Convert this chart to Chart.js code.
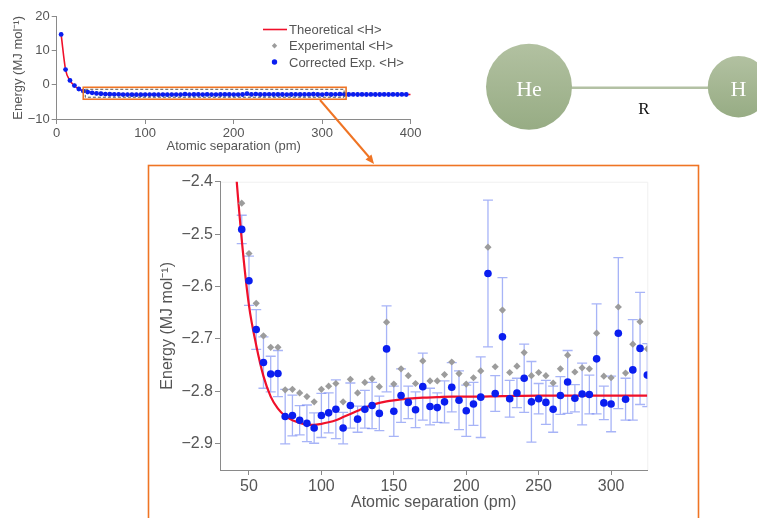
<!DOCTYPE html>
<html>
<head>
<meta charset="utf-8">
<title>HeH+ potential energy curve</title>
<script src="https://cdn.jsdelivr.net/npm/chart.js@4.4.1/dist/chart.umd.min.js"></script>
<style>
  html, body { margin: 0; padding: 0; background: #fff; }
  #page { position: relative; width: 757px; height: 518px; overflow: hidden; }
  #overview { position: absolute; left: 0; top: 0; }
  #detail { position: absolute; left: 150px; top: 170px; }
  #deco { position: absolute; left: 0; top: 0; pointer-events: none; }
</style>
</head>
<body>
<div id="page">
  <canvas id="overview" width="430" height="160"></canvas>
  <canvas id="detail" width="510" height="348"></canvas>
  <svg id="deco" width="757" height="518" xmlns="http://www.w3.org/2000/svg">
    <defs>
      <linearGradient id="ball" x1="0" y1="0" x2="0" y2="1">
        <stop offset="0" stop-color="#b2c1a1"/>
        <stop offset="1" stop-color="#97ac84"/>
      </linearGradient>
    </defs>
    <!-- legend of the overview plot -->
    <g font-family="Liberation Sans, Arial, sans-serif" font-size="13" fill="#555" dominant-baseline="central">
      <line x1="263" y1="29.5" x2="287" y2="29.5" stroke="#f0102a" stroke-width="1.6"/>
      <text x="289" y="29.5">Theoretical &lt;H&gt;</text>
      <polygon points="274.5,43 277.2,45.8 274.5,48.6 271.8,45.8" fill="#9c9c9c"/>
      <text x="289" y="45.8">Experimental &lt;H&gt;</text>
      <circle cx="274.5" cy="62" r="2.7" fill="#0a1ef0"/>
      <text x="289" y="62">Corrected Exp. &lt;H&gt;</text>
    </g>
    <!-- link from the zoom window to the enlarged plot -->
    <line x1="320" y1="100" x2="369" y2="157" stroke="#ef7424" stroke-width="2"/>
    <polygon points="374,164 365.5,159.5 371.5,154.5" fill="#ef7424"/>
    <rect x="148.5" y="165.5" width="550" height="420" fill="none" stroke="#ef7424" stroke-width="1.6"/>
    <!-- He-H diatomic sketch -->
    <line x1="571" y1="87.7" x2="708" y2="87.7" stroke="#b3c1a4" stroke-width="2.5"/>
    <circle cx="529" cy="86.7" r="43" fill="url(#ball)"/>
    <circle cx="738.5" cy="86.7" r="30.7" fill="url(#ball)"/>
    <text x="529" y="88" fill="#ffffff" font-family="Liberation Serif, DejaVu Serif, serif" font-size="22" text-anchor="middle" dominant-baseline="central">He</text>
    <text x="738.5" y="88" fill="#ffffff" font-family="Liberation Serif, DejaVu Serif, serif" font-size="22" text-anchor="middle" dominant-baseline="central">H</text>
    <text x="644" y="108" fill="#111" font-family="Liberation Serif, DejaVu Serif, serif" font-size="17" text-anchor="middle" dominant-baseline="central">R</text>
  </svg>
</div>
<script>
// Atomic separation of each measured geometry (pm)
const separation = [
  5, 10, 15, 20, 25, 30, 35, 40, 45, 50, 55, 60, 65, 70, 75, 80, 85, 90, 95, 100,
  105, 110, 115, 120, 125, 130, 135, 140, 145, 150, 155, 160, 165, 170, 175, 180, 185, 190, 195, 200,
  205, 210, 215, 220, 225, 230, 235, 240, 245, 250, 255, 260, 265, 270, 275, 280, 285, 290, 295, 300,
  305, 310, 315, 320, 325, 330, 335, 340, 345, 350, 355, 360, 365, 370, 375, 380, 385, 390, 395
];

// Experimental <H> (MJ mol^-1)
const experimental = [
  14.85, 4.55, 1.35, -0.15, -1.15, -1.75, -2.05, -2.28, -2.441, -2.537,
  -2.632, -2.694, -2.716, -2.716, -2.797, -2.796, -2.803, -2.810, -2.820, -2.796,
  -2.790, -2.785, -2.820, -2.777, -2.803, -2.783, -2.776, -2.791, -2.668, -2.786,
  -2.757, -2.770, -2.785, -2.742, -2.780, -2.780, -2.768, -2.744, -2.766, -2.786,
  -2.774, -2.761, -2.525, -2.753, -2.645, -2.764, -2.752, -2.726, -2.770, -2.764,
  -2.770, -2.784, -2.757, -2.731, -2.763, -2.755, -2.757, -2.689, -2.771, -2.774,
  -2.639, -2.765, -2.710, -2.667, -2.719, -2.76, -2.75, -2.77, -2.74, -2.76,
  -2.75, -2.76, -2.77, -2.75, -2.76, -2.74, -2.76, -2.75, -2.76
];

// Corrected experimental <H> (MJ mol^-1)
const corrected = [
  14.8, 4.5, 1.3, -0.2, -1.2, -1.8, -2.1, -2.33, -2.491, -2.589,
  -2.682, -2.745, -2.767, -2.766, -2.848, -2.846, -2.855, -2.861, -2.870, -2.846,
  -2.841, -2.834, -2.870, -2.827, -2.853, -2.834, -2.827, -2.842, -2.719, -2.838,
  -2.808, -2.821, -2.835, -2.791, -2.829, -2.831, -2.820, -2.792, -2.817, -2.837,
  -2.824, -2.811, -2.575, -2.804, -2.696, -2.814, -2.803, -2.775, -2.820, -2.814,
  -2.821, -2.834, -2.808, -2.782, -2.813, -2.805, -2.806, -2.738, -2.822, -2.824,
  -2.689, -2.815, -2.759, -2.718, -2.769, -2.81, -2.80, -2.82, -2.79, -2.81,
  -2.80, -2.81, -2.82, -2.80, -2.81, -2.79, -2.81, -2.80, -2.81
];

// Uncertainty of the corrected values, half-width (MJ mol^-1)
const correctedError = [
  0.02, 0.02, 0.03, 0.03, 0.03, 0.04, 0.04, 0.03, 0.027, 0.047,
  0.038, 0.049, 0.034, 0.044, 0.052, 0.039, 0.028, 0.035, 0.029, 0.042,
  0.038, 0.056, 0.030, 0.043, 0.025, 0.036, 0.044, 0.033, 0.082, 0.048,
  0.051, 0.031, 0.034, 0.064, 0.035, 0.028, 0.040, 0.047, 0.056, 0.049,
  0.041, 0.077, 0.140, 0.034, 0.113, 0.035, 0.028, 0.065, 0.077, 0.029,
  0.042, 0.044, 0.036, 0.060, 0.026, 0.059, 0.037, 0.105, 0.032, 0.053,
  0.144, 0.040, 0.096, 0.107, 0.060, 0.05, 0.04, 0.06, 0.05, 0.04,
  0.05, 0.06, 0.04, 0.05, 0.05, 0.04, 0.06, 0.05, 0.04
];

// Theoretical <H> curve
const theorySeparation = [
  5, 10, 15, 20, 25, 30, 35, 40, 45, 50, 55, 60, 65, 70, 75, 80, 85, 90, 95, 100,
  105, 110, 115, 120, 125, 130, 135, 140, 145, 150, 160, 170, 180, 190, 200,
  225, 250, 275, 300, 325, 350, 375, 400
];
const theoryEnergy = [
  14.8, 4.5, 1.25, -0.25, -1.2, -1.75, -2.08, -2.34, -2.51, -2.636,
  -2.712, -2.771, -2.810, -2.833, -2.847, -2.855, -2.860, -2.863, -2.864, -2.862,
  -2.859, -2.855, -2.849, -2.843, -2.837, -2.831, -2.826, -2.822, -2.819, -2.817,
  -2.814, -2.812, -2.811, -2.810, -2.810,
  -2.809, -2.808, -2.808, -2.808, -2.808, -2.808, -2.808, -2.808
];

// Tick values
const overviewXTicks = [0, 100, 200, 300, 400];
const overviewYTicks = [-10, 0, 10, 20];
const detailXTicks = [50, 100, 150, 200, 250, 300];
const detailYTicks = [-2.9, -2.8, -2.7, -2.6, -2.5, -2.4];

// Region of the overview that is enlarged below
const zoomWindow = { xMin: 30, xMax: 327, yMin: -4.2, yMax: -0.7 };

const RED = '#f0102a';
const BLUE = '#0a1ef0';
const GREY = '#9c9c9c';
const TEXT = '#555555';
const AXIS = '#8a8a8a';

Chart.defaults.font.family = '"Liberation Sans", Arial, Helvetica, sans-serif';
Chart.defaults.color = TEXT;
Chart.defaults.animation = false;

const pairs = (xs, ys) => xs.map((x, i) => ({ x: x, y: ys[i] }));
const minusLabel = v => (v < 0 ? '\u2212' + Math.abs(v) : String(v));
const fixedTicks = list => scale => { scale.ticks = list.map(v => ({ value: v })); };

function buildDatasets(big) {
  return [
    {
      label: 'Corrected Exp. <H>',
      data: pairs(separation, corrected),
      pointStyle: 'circle',
      pointRadius: big ? 3.8 : 2.4,
      pointBackgroundColor: BLUE,
      pointBorderWidth: 0,
      showLine: false,
      order: 0
    },
    {
      label: 'Experimental <H>',
      data: pairs(separation, experimental),
      pointStyle: 'rectRot',
      pointRadius: big ? 3.6 : 2.2,
      pointBackgroundColor: GREY,
      pointBorderWidth: 0,
      showLine: false,
      order: 1
    },
    {
      label: 'Theoretical <H>',
      data: pairs(theorySeparation, theoryEnergy),
      showLine: true,
      borderColor: RED,
      borderWidth: big ? 2.2 : 1.6,
      pointRadius: 0,
      cubicInterpolationMode: 'monotone',
      order: 2
    }
  ];
}

function axisStyle(fontSize) {
  return {
    grid: { display: true, drawOnChartArea: false, drawTicks: true, tickLength: 5, color: AXIS, lineWidth: 1 },
    border: { display: true, color: AXIS, width: 1 },
    ticks: { color: TEXT, font: { size: fontSize }, padding: 2, maxRotation: 0, autoSkip: false, callback: minusLabel }
  };
}

// Error bars of the corrected values, drawn under the markers
const errorBars = {
  id: 'errorBars',
  beforeDatasetsDraw(chart) {
    const { ctx, chartArea: a, scales: { x, y } } = chart;
    ctx.save();
    ctx.beginPath();
    ctx.rect(a.left, a.top, a.right - a.left, a.bottom - a.top);
    ctx.clip();
    ctx.strokeStyle = 'rgba(80,105,240,0.5)';
    ctx.lineWidth = 1.3;
    const cap = 5;
    separation.forEach((s, i) => {
      const px = x.getPixelForValue(s);
      const hi = y.getPixelForValue(corrected[i] + correctedError[i]);
      const lo = y.getPixelForValue(corrected[i] - correctedError[i]);
      ctx.beginPath();
      ctx.moveTo(px, hi); ctx.lineTo(px, lo);
      ctx.moveTo(px - cap, hi); ctx.lineTo(px + cap, hi);
      ctx.moveTo(px - cap, lo); ctx.lineTo(px + cap, lo);
      ctx.stroke();
    });
    ctx.restore();
  }
};

// Faint outline on the open sides of the enlarged plot
const plotFrame = {
  id: 'plotFrame',
  beforeDraw(chart) {
    const { ctx, chartArea: a } = chart;
    ctx.save();
    ctx.strokeStyle = '#f0f0f0';
    ctx.lineWidth = 1;
    ctx.beginPath();
    ctx.moveTo(a.left, a.top + 0.5); ctx.lineTo(a.right + 0.5, a.top + 0.5); ctx.lineTo(a.right + 0.5, a.bottom);
    ctx.stroke();
    ctx.restore();
  }
};

// Zoom window marked on the overview plot
const zoomBox = {
  id: 'zoomBox',
  afterDatasetsDraw(chart) {
    const { ctx, scales: { x, y } } = chart;
    const l = x.getPixelForValue(zoomWindow.xMin), r = x.getPixelForValue(zoomWindow.xMax);
    const t = y.getPixelForValue(zoomWindow.yMax), b = y.getPixelForValue(zoomWindow.yMin);
    ctx.save();
    ctx.strokeStyle = '#555';
    ctx.lineWidth = 1;
    ctx.setLineDash([3, 2]);
    ctx.strokeRect(l + 2, t + 2, r - l - 4, b - t - 4);
    ctx.setLineDash([]);
    ctx.strokeStyle = '#ef7424';
    ctx.lineWidth = 1.6;
    ctx.strokeRect(l, t, r - l, b - t);
    ctx.restore();
  }
};

new Chart(document.getElementById('overview'), {
  type: 'scatter',
  data: { datasets: buildDatasets(false) },
  options: {
    responsive: false,
    devicePixelRatio: 1,
    layout: { padding: { top: 16.7, right: 19.3, left: 0, bottom: 0 } },
    plugins: { legend: { display: false }, tooltip: { enabled: false } },
    scales: {
      x: Object.assign(axisStyle(13), {
        type: 'linear', min: 0, max: 400,
        afterBuildTicks: fixedTicks(overviewXTicks),
        afterFit: s => { s.height = 41; },
        title: { display: true, text: 'Atomic separation (pm)', color: TEXT, font: { size: 13 }, padding: { top: 0, bottom: 5.5 } }
      }),
      y: Object.assign(axisStyle(13), {
        type: 'linear', min: -10, max: 20,
        afterBuildTicks: fixedTicks(overviewYTicks),
        afterFit: s => { s.width = 56.7; },
        title: { display: true, text: 'Energy (MJ mol\u207B\u00B9)', color: TEXT, font: { size: 13 }, padding: { top: 10.2, bottom: 0 } }
      })
    }
  },
  plugins: [zoomBox]
});

new Chart(document.getElementById('detail'), {
  type: 'scatter',
  data: { datasets: buildDatasets(true) },
  options: {
    responsive: false,
    devicePixelRatio: 1,
    layout: { padding: { top: 11.7, right: 12.7, left: 0, bottom: 0 } },
    plugins: { legend: { display: false }, tooltip: { enabled: false } },
    scales: {
      x: Object.assign(axisStyle(16), {
        type: 'linear', min: 30, max: 325,
        afterBuildTicks: fixedTicks(detailXTicks),
        afterFit: s => { s.height = 48; },
        title: { display: true, text: 'Atomic separation (pm)', color: TEXT, font: { size: 16 }, padding: { top: 0, bottom: 5.4 } }
      }),
      y: Object.assign(axisStyle(16), {
        type: 'linear', min: -2.95, max: -2.4,
        afterBuildTicks: fixedTicks(detailYTicks),
        afterFit: s => { s.width = 70; },
        title: { display: true, text: 'Energy (MJ mol\u207B\u00B9)', color: TEXT, font: { size: 16 }, padding: { top: 8.4, bottom: 0 } }
      })
    }
  },
  plugins: [plotFrame, errorBars]
});
</script>
</body>
</html>
